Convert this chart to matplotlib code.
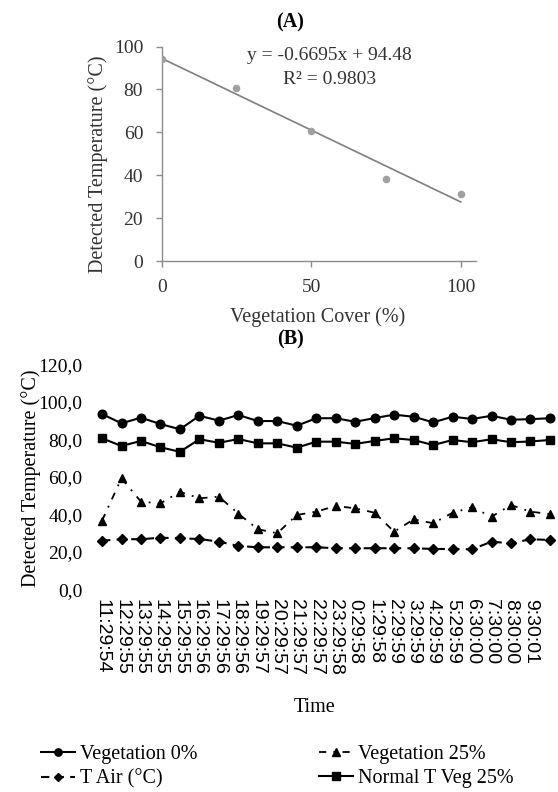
import matplotlib
matplotlib.use('Agg')
import matplotlib.pyplot as plt
import numpy as np

# panel A data
cover = [0, 25, 50, 75, 100]
detected = [94.2, 80.8, 60.8, 38.3, 31.2]
slope = -0.6695
intercept = 94.48
r2 = 0.9803

# panel B data
times = ["11:29:54", "12:29:55", "13:29:55", "14:29:55", "15:29:55", "16:29:56",
         "17:29:56", "18:29:56", "19:29:57", "20:29:57", "21:29:57", "22:29:57",
         "23:29:58", "0:29:58", "1:29:58", "2:29:59", "3:29:59", "4:29:59",
         "5:29:59", "6:30:00", "7:30:00", "8:30:00", "9:30:01"]
veg0 = [93.4, 88.5, 91.5, 88.1, 85.3, 92.5, 89.9, 92.9, 89.7, 89.7, 87.2, 91.2,
        91.2, 89.3, 91.3, 93.1, 92.0, 89.0, 92.0, 90.8, 92.5, 90.4, 90.7, 91.2]
veg25 = [36.6, 59.2, 46.7, 45.8, 52.0, 48.5, 49.4, 40.3, 32.0, 29.9, 39.6, 41.4,
         44.4, 43.2, 40.8, 30.7, 37.3, 35.2, 40.8, 43.7, 38.7, 44.9, 41.4, 40.1]
t_air = [25.9, 26.7, 26.7, 27.5, 27.2, 26.8, 25.4, 23.1, 22.4, 22.4, 22.4, 22.4,
         21.9, 21.9, 21.9, 21.9, 21.9, 21.5, 21.5, 21.3, 25.4, 24.5, 26.7, 26.3]
normal_veg25 = [80.5, 76.4, 79.1, 75.7, 73.3, 80.0, 78.1, 80.1, 77.8, 77.8, 75.5, 78.7,
                78.7, 77.5, 79.1, 80.5, 79.6, 76.9, 79.6, 78.4, 80.0, 78.4, 78.8, 79.6]
yticks_b = [0, 20, 40, 60, 80, 100, 120]

serif = ['Liberation Serif', 'DejaVu Serif']
sans = ['Liberation Sans', 'DejaVu Sans']
W, H = 558.0, 792.0


def drawAll():
  fig = plt.figure(figsize=(5.58, 7.92), dpi=100)
  fs1 = 14.5
  fs2 = 14
  txt = '#333333'
  axc = '#8c8c8c'

  # ---------------- (A)
  ax1 = fig.add_axes([161.7/W, 1-261/H, 314/W, 214.5/H])
  ax1.scatter(cover, detected, s=30, color='#a0a0a0', zorder=3, linewidths=0)
  xl = np.array([cover[0], cover[-1]])
  ax1.plot(xl, slope*xl + intercept, color='#7f7f7f', linewidth=1.2)
  ax1.set_xlim(0, 105)
  ax1.set_ylim(0, 100)
  ax1.set_xticks([0, 50, 100])
  ax1.set_yticks([0, 20, 40, 60, 80, 100])
  for s in ['top', 'right']:
    ax1.spines[s].set_visible(False)
  for s in ['left', 'bottom']:
    ax1.spines[s].set_color(axc)
    ax1.spines[s].set_linewidth(1.0)
  ax1.tick_params(axis='both', direction='out', length=4.3, width=1.0, color=axc,
                  labelcolor=txt, labelsize=fs2)
  ax1.tick_params(axis='y', pad=9)
  ax1.tick_params(axis='x', pad=9)
  for lab in ax1.get_xticklabels() + ax1.get_yticklabels():
    lab.set_family(serif)
  ax1.text(56, 95.9, 'y = %.4fx + %.2f' % (slope, intercept), ha='center', va='center',
           fontsize=fs2, family=serif, color=txt)
  ax1.text(56, 84.7, 'R² = %.4f' % r2, ha='center', va='center',
           fontsize=fs2, family=serif, color=txt)
  fig.text(290/W, 1-22/H, '(A)', ha='center', va='center', fontsize=fs1,
           fontweight='bold', family=serif)
  fig.text(98/W, 1-164.5/H, 'Detected Temperature (°C)', rotation=90, ha='center',
           va='center', fontsize=fs1, family=serif, color=txt)
  fig.text(318/W, 1-317/H, 'Vegetation Cover (%)', ha='center', va='center',
           fontsize=fs1, family=serif, color=txt)

  # ---------------- (B)
  ax2 = fig.add_axes([92.3/W, 1-589.3/H, 467.4/W, 225.1/H])
  x = np.arange(len(veg0))
  lw = 1.5
  l1, = ax2.plot(x, veg0, color='black', linewidth=lw, marker='o', markersize=6.2,
                 label='Vegetation 0%')
  l2, = ax2.plot(x, veg25, color='black', linewidth=1.3, linestyle=(0, (4, 4, 1, 4)),
                 marker='^', markersize=6.2, label='Vegetation 25%')
  l3, = ax2.plot(x, t_air, color='black', linewidth=1.5, linestyle=(0, (4, 3)),
                 marker='D', markersize=4.6, label='T Air (°C)')
  l4, = ax2.plot(x, normal_veg25, color='black', linewidth=lw, marker='s', markersize=6.2,
                 label='Normal T Veg 25%')
  ax2.set_xlim(-0.5, 23.5)
  ax2.set_ylim(0, 120)
  ax2.set_xticks(x)
  ax2.set_xticklabels(times + [''] * (len(x) - len(times)), rotation=270,
                      ha='center', va='top', family=sans, fontsize=fs2)
  ax2.set_yticks(yticks_b)
  ax2.set_yticklabels([('%.1f' % v).replace('.', ',') for v in yticks_b],
                      family=serif, fontsize=fs2)
  for s in ax2.spines.values():
    s.set_visible(False)
  ax2.tick_params(axis='both', length=0)
  ax2.tick_params(axis='y', pad=7)
  ax2.tick_params(axis='x', pad=7)
  fig.text(290/W, 1-339/H, '(B)', ha='center', va='center', fontsize=fs1,
           fontweight='bold', family=serif)
  fig.text(31/W, 1-478/H, 'Detected Temperature (°C)', rotation=90, ha='center',
           va='center', fontsize=fs1, family=serif)
  fig.text(315/W, 1-708/H, 'Time', ha='center', va='center', fontsize=fs1, family=serif)

  fig.legend([l1, l3, l2, l4], [l1.get_label(), l3.get_label(), l2.get_label(), l4.get_label()],
             loc='upper left', bbox_to_anchor=(41/W, 1-745/H), ncol=2, frameon=False,
             prop={'family': serif, 'size': fs1}, handlelength=1.7, handletextpad=0.25,
             columnspacing=6.0, labelspacing=0.25, borderpad=0, borderaxespad=0,
             markerscale=0.85)

  fig.savefig('out.png', dpi=100)


if __name__ == "__main__":
  drawAll()
